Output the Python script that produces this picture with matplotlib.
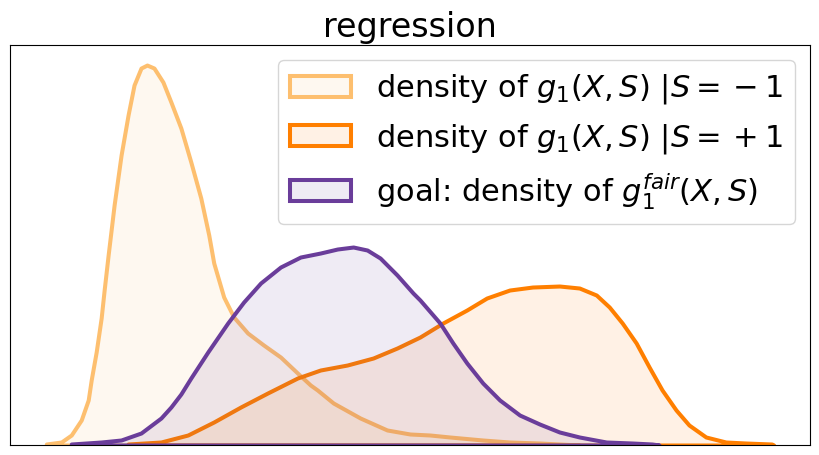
import numpy as np
import matplotlib
matplotlib.use("Agg")
import matplotlib.pyplot as plt
from matplotlib.colors import to_rgba

# density values (x: prediction, y: density)
x_sm1 = [-3.65, -3.50, -3.40, -3.30, -3.23, -3.20, -3.15, -3.10, -3.07, -3.03,
         -2.97, -2.90, -2.83, -2.77, -2.70, -2.64, -2.57, -2.48, -2.40, -2.30,
         -2.20, -2.10, -2.02, -1.97, -1.87, -1.77, -1.63, -1.47, -1.30, -1.13,
         -1.00, -0.93, -0.77, -0.50, -0.23, 0.00, 0.20, 0.40, 0.73, 1.00,
         1.30, 1.50, 1.70]
y_sm1 = [0.001, 0.003, 0.010, 0.025, 0.045, 0.065, 0.093, 0.127, 0.155, 0.190,
         0.240, 0.290, 0.330, 0.360, 0.377, 0.380, 0.377, 0.363, 0.343, 0.317,
         0.283, 0.247, 0.210, 0.182, 0.148, 0.128, 0.112, 0.100, 0.088, 0.072,
         0.060, 0.055, 0.042, 0.027, 0.015, 0.011, 0.010, 0.008, 0.005, 0.003,
         0.002, 0.001, 0.0]

x_sp1 = [-2.83, -2.50, -2.23, -1.97, -1.70, -1.43, -1.13, -0.90, -0.63, -0.37,
         -0.13, 0.10, 0.33, 0.57, 0.77, 1.00, 1.23, 1.50, 1.70, 1.87,
         2.00, 2.13, 2.27, 2.40, 2.53, 2.67, 2.80, 2.97, 3.17, 3.37,
         3.63, 3.65]
y_sp1 = [0.001, 0.003, 0.010, 0.023, 0.038, 0.052, 0.067, 0.075, 0.080, 0.087,
         0.097, 0.108, 0.122, 0.135, 0.147, 0.155, 0.158, 0.159, 0.157, 0.150,
         0.138, 0.122, 0.102, 0.078, 0.055, 0.035, 0.020, 0.008, 0.003, 0.002,
         0.001, 0.0]

x_fair = [-3.40, -3.10, -2.90, -2.70, -2.50, -2.40, -2.30, -2.20, -2.03, -1.83,
          -1.67, -1.50, -1.30, -1.10, -0.90, -0.73, -0.57, -0.43, -0.30, -0.13,
          0.03, 0.10, 0.30, 0.43, 0.57, 0.73, 0.90, 1.10, 1.30, 1.50,
          1.70, 1.97, 2.23, 2.43, 2.50]
y_fair = [0.001, 0.003, 0.005, 0.012, 0.027, 0.038, 0.051, 0.067, 0.093, 0.122,
          0.143, 0.162, 0.178, 0.188, 0.192, 0.196, 0.198, 0.195, 0.187, 0.170,
          0.152, 0.145, 0.122, 0.102, 0.082, 0.062, 0.045, 0.030, 0.021, 0.013,
          0.008, 0.003, 0.002, 0.001, 0.0]

labels = [r"density of $g_1(X,S)$ $|S={}-1$",
          r"density of $g_1(X,S)$ $|S={}+1$",
          r"goal: density of $g_1^{fair}(X,S)$"]
colors = ["#fdbf6f", "#ff7f00", "#6a3d9a"]

fig = plt.figure(figsize=(8.19, 4.55), dpi=100)
ax = fig.add_axes([10 / 819, 10 / 455, 800 / 819, 400 / 455])

for xs, ys, c, lab in zip([x_sm1, x_sp1, x_fair], [y_sm1, y_sp1, y_fair], colors, labels):
    ax.fill_between(np.array(xs), np.array(ys), 0,
                    facecolor=to_rgba(c, 0.1), edgecolor=c,
                    linewidth=2.9, joinstyle="round", label=lab)

ax.set_xlim(-4.015, 4.015)
ax.set_ylim(0, 0.381 * 1.05)
ax.set_xticks([])
ax.set_yticks([])
ax.set_title("regression", fontsize=24)
ax.legend(loc="upper right", fontsize=22)

fig.savefig("out.png", dpi=100)
